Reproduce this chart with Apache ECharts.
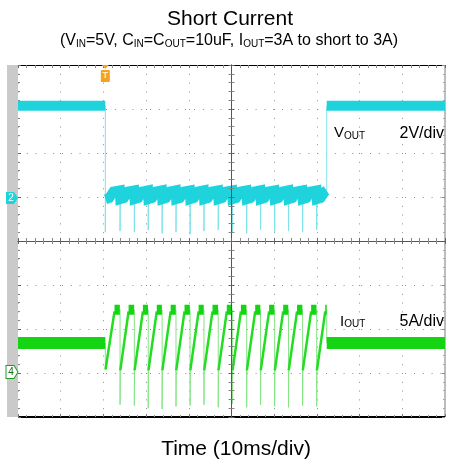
<!DOCTYPE html>
<html>
<head>
<meta charset="utf-8">
<script src="https://cdn.jsdelivr.net/npm/echarts@6/dist/echarts.min.js"></script>
<style>
  html, body { margin: 0; padding: 0; background: #fff; }
  #chart { width: 453px; height: 464px; }
</style>
</head>
<body>
<div id="chart"></div>
<script>
// Scope capture: VOUT (CH2, 2 V/div) and IOUT (CH4, 5 A/div), 10 ms/div
const FONT = '"Liberation Sans", Arial, Helvetica, sans-serif';

// time axis (ms) and vertical scales
const timeRange = [0, 100];
const voutRange = [-10, 6];    // 2 V/div, CH2 ground 3 div below top
const ioutRange = [-5, 35];    // 5 A/div, CH4 ground 1 div above bottom
const trigTime = 20.45;

// VOUT: wide noise band (level before/after, sawtooth during hiccup)
const voutBand = [
  [0, 4.15], [20.45, 4.15], null,
  [20.5, -0.1], [21.35, -0.05], [22.35, 0.25], [23.85, 0.3],
  [23.95, -0.1], [24.8, -0.05], [25.8, 0.25], [27.2, 0.3],
  [27.3, -0.1], [28.15, -0.05], [29.15, 0.25], [30.45, 0.3],
  [30.55, -0.1], [31.4, -0.05], [32.4, 0.25], [33.7, 0.3],
  [33.8, -0.1], [34.65, -0.05], [35.65, 0.25], [36.95, 0.3],
  [37.05, -0.1], [37.9, -0.05], [38.9, 0.25], [40.25, 0.3],
  [40.35, -0.1], [41.2, -0.05], [42.2, 0.25], [43.5, 0.3],
  [43.6, -0.1], [44.45, -0.05], [45.45, 0.25], [46.85, 0.3],
  [46.95, -0.1], [47.8, -0.05], [48.8, 0.25], [50.15, 0.3],
  [50.25, -0.1], [51.1, -0.05], [52.1, 0.25], [53.5, 0.3],
  [53.6, -0.1], [54.45, -0.05], [55.45, 0.25], [56.75, 0.3],
  [56.85, -0.1], [57.7, -0.05], [58.7, 0.25], [60.05, 0.3],
  [60.15, -0.1], [61.0, -0.05], [62.0, 0.25], [63.3, 0.3],
  [63.4, -0.1], [64.25, -0.05], [65.25, 0.25], [66.6, 0.3],
  [66.7, -0.1], [67.55, -0.05], [68.55, 0.25], [69.9, 0.3],
  [70.0, -0.1], [70.85, -0.05], [71.85, 0.25], [72.25, 0.3], null,
  [72.3, 4.15], [100, 4.15]
];

// VOUT: fast edges and negative spikes at each restart
const voutEdges = [
  [20.45, 4.15], [20.45, -1.6], [20.5, -0.1], null,
  [23.9, 0.3], [23.9, -1.55], [23.95, -0.1], null,
  [27.25, 0.3], [27.25, -1.6], [27.3, -0.1], null,
  [30.5, 0.3], [30.5, -1.5], [30.55, -0.1], null,
  [33.75, 0.3], [33.75, -1.65], [33.8, -0.1], null,
  [37.0, 0.3], [37.0, -1.6], [37.05, -0.1], null,
  [40.3, 0.3], [40.3, -1.7], [40.35, -0.1], null,
  [43.55, 0.3], [43.55, -1.55], [43.6, -0.1], null,
  [46.9, 0.3], [46.9, -1.5], [46.95, -0.1], null,
  [50.2, 0.3], [50.2, -1.6], [50.25, -0.1], null,
  [53.55, 0.3], [53.55, -1.65], [53.6, -0.1], null,
  [56.8, 0.3], [56.8, -1.5], [56.85, -0.1], null,
  [60.1, 0.3], [60.1, -1.6], [60.15, -0.1], null,
  [63.35, 0.3], [63.35, -1.55], [63.4, -0.1], null,
  [66.65, 0.3], [66.65, -1.6], [66.7, -0.1], null,
  [69.95, 0.3], [69.95, -1.5], [70.0, -0.1], null,
  [72.3, 0.3], [72.3, 4.15]
];

// IOUT: steady 3 A level band before and after the short
const ioutBand = [
  [0, 3.4], [20.45, 3.4], null,
  [72.3, 3.4], [100, 3.4]
];

// IOUT: current ramps of the hiccup cycles
const ioutRamps = [
  [20.5, 0.4], [22.6, 7.0], null,
  [23.95, 0.3], [25.9, 7.0], null,
  [27.3, 0.3], [29.25, 7.0], null,
  [30.55, 0.3], [32.5, 7.0], null,
  [33.8, 0.3], [35.75, 7.0], null,
  [37.05, 0.3], [39.0, 7.0], null,
  [40.35, 0.3], [42.3, 7.0], null,
  [43.6, 0.3], [45.55, 7.0], null,
  [46.95, 0.3], [48.9, 7.0], null,
  [50.25, 0.3], [52.2, 7.0], null,
  [53.6, 0.3], [55.55, 7.0], null,
  [56.85, 0.3], [58.8, 7.0], null,
  [60.15, 0.3], [62.1, 7.0], null,
  [63.4, 0.3], [65.35, 7.0], null,
  [66.7, 0.3], [68.65, 7.0], null,
  [70.0, 0.3], [71.95, 7.0]
];

// IOUT: current-limit plateaus
const ioutTops = [
  [22.6, 7.2], [23.85, 7.2], null,
  [25.9, 7.2], [27.2, 7.2], null,
  [29.25, 7.2], [30.45, 7.2], null,
  [32.5, 7.2], [33.7, 7.2], null,
  [35.75, 7.2], [36.95, 7.2], null,
  [39.0, 7.2], [40.25, 7.2], null,
  [42.3, 7.2], [43.5, 7.2], null,
  [45.55, 7.2], [46.85, 7.2], null,
  [48.9, 7.2], [50.15, 7.2], null,
  [52.2, 7.2], [53.5, 7.2], null,
  [55.55, 7.2], [56.75, 7.2], null,
  [58.8, 7.2], [60.05, 7.2], null,
  [62.1, 7.2], [63.3, 7.2], null,
  [65.35, 7.2], [66.6, 7.2], null,
  [68.65, 7.2], [69.9, 7.2], null,
  [71.95, 7.2], [72.3, 7.2]
];

// IOUT: turn-off edges with their negative spikes
const ioutEdges = [
  [20.45, 3.4], [20.45, 0.4], null,
  [23.9, 7.2], [23.9, -3.6], [23.95, 0.3], null,
  [27.25, 7.2], [27.25, -3.7], [27.3, 0.3], null,
  [30.5, 7.2], [30.5, -4.0], [30.55, 0.3], null,
  [33.75, 7.2], [33.75, -4.1], [33.8, 0.3], null,
  [37.0, 7.2], [37.0, -3.8], [37.05, 0.3], null,
  [40.3, 7.2], [40.3, -3.7], [40.35, 0.3], null,
  [43.55, 7.2], [43.55, -3.6], [43.6, 0.3], null,
  [46.9, 7.2], [46.9, -3.9], [46.95, 0.3], null,
  [50.2, 7.2], [50.2, -3.5], [50.25, 0.3], null,
  [53.55, 7.2], [53.55, -3.9], [53.6, 0.3], null,
  [56.8, 7.2], [56.8, -3.6], [56.85, 0.3], null,
  [60.1, 7.2], [60.1, -3.8], [60.15, 0.3], null,
  [63.35, 7.2], [63.35, -3.9], [63.4, 0.3], null,
  [66.65, 7.2], [66.65, -3.7], [66.7, 0.3], null,
  [69.95, 7.2], [69.95, -3.8], [70.0, 0.3], null,
  [72.3, 7.2], [72.3, 3.4]
];

const CYAN = '#1fd3dc';
const CYAN_LIGHT = '#7fe2e8';
const GREEN = '#14d414';
const GREEN_RAMP = '#22dd22';
const GREEN_LIGHT = '#86e486';

const chart = echarts.init(document.getElementById('chart'), null, { renderer: 'canvas' });

const hiddenLabel = { show: false };
const dotted = (dash) => ({ show: true, lineStyle: { color: '#8c8c8c', width: 1, type: dash } });

const option = {
  animation: false,
  backgroundColor: '#fff',
  grid: { left: 18, right: 8, top: 65, bottom: 47, containLabel: false },
  xAxis: [
    { // main time base, bottom frame
      type: 'value', min: timeRange[0], max: timeRange[1], interval: 10, position: 'bottom',
      axisLine: { onZero: false, lineStyle: { color: '#000', width: 2, cap: 'butt' } },
      axisTick: { show: true, inside: true, length: 3, lineStyle: { color: '#777' } },
      minorTick: { show: true, splitNumber: 5, length: 2, lineStyle: { color: '#999' } },
      axisLabel: hiddenLabel,
      splitLine: dotted([1, 7.8])
    },
    { // top frame
      type: 'value', min: timeRange[0], max: timeRange[1], interval: 10, position: 'top',
      axisLine: { onZero: false, lineStyle: { color: '#000', width: 1, cap: 'butt' } },
      axisTick: { show: true, inside: true, length: 3, lineStyle: { color: '#666' } },
      minorTick: { show: true, splitNumber: 5, length: 3, lineStyle: { color: '#888' } },
      axisLabel: hiddenLabel, splitLine: { show: false }
    },
    { // horizontal centre line, ticks upward
      type: 'value', min: -50, max: 50, interval: 10, position: 'bottom', z: 6,
      axisLine: { onZero: true, onZeroAxisIndex: 2, lineStyle: { color: '#555', width: 1 } },
      axisTick: { show: true, inside: true, length: 3, lineStyle: { color: '#666' } },
      minorTick: { show: true, splitNumber: 5, length: 3, lineStyle: { color: '#888' } },
      axisLabel: hiddenLabel, splitLine: { show: false }
    },
    { // horizontal centre line, ticks downward
      type: 'value', min: -50, max: 50, interval: 10, position: 'bottom', z: 6,
      axisLine: { onZero: true, onZeroAxisIndex: 2, lineStyle: { color: '#555', width: 1 } },
      axisTick: { show: true, inside: false, length: 3, lineStyle: { color: '#666' } },
      minorTick: { show: true, splitNumber: 5, length: 3, lineStyle: { color: '#888' } },
      axisLabel: hiddenLabel, splitLine: { show: false }
    }
  ],
  yAxis: [
    { type: 'value', min: voutRange[0], max: voutRange[1], show: false, axisLine: { onZero: false } },
    { type: 'value', min: ioutRange[0], max: ioutRange[1], show: false, axisLine: { onZero: false } },
    { // graticule rows + grey left strip
      type: 'value', min: -4, max: 4, interval: 1, position: 'left', offset: 6,
      axisLine: { onZero: false, lineStyle: { color: '#cacaca', width: 11, cap: 'butt' } },
      axisTick: { show: false }, axisLabel: hiddenLabel,
      splitLine: dotted([1, 7.8])
    },
    { // left frame ticks
      type: 'value', min: -4, max: 4, interval: 1, position: 'left',
      axisLine: { show: false, onZero: false },
      axisTick: { show: true, inside: true, length: 3, lineStyle: { color: '#666' } },
      minorTick: { show: true, splitNumber: 5, length: 2, lineStyle: { color: '#888' } },
      axisLabel: hiddenLabel, splitLine: { show: false }
    },
    { // vertical centre line, ticks right
      type: 'value', min: -4, max: 4, interval: 1, position: 'left', z: 6,
      axisLine: { onZero: true, onZeroAxisIndex: 2, lineStyle: { color: '#555', width: 1 } },
      axisTick: { show: true, inside: true, length: 3, lineStyle: { color: '#666' } },
      minorTick: { show: true, splitNumber: 5, length: 3, lineStyle: { color: '#888' } },
      axisLabel: hiddenLabel, splitLine: { show: false }
    },
    { // vertical centre line, ticks left
      type: 'value', min: -4, max: 4, interval: 1, position: 'left', z: 6,
      axisLine: { onZero: true, onZeroAxisIndex: 2, lineStyle: { color: '#555', width: 1 } },
      axisTick: { show: true, inside: false, length: 3, lineStyle: { color: '#666' } },
      minorTick: { show: true, splitNumber: 5, length: 3, lineStyle: { color: '#888' } },
      axisLabel: hiddenLabel, splitLine: { show: false }
    },
    { // right frame
      type: 'value', min: -4, max: 4, interval: 1, position: 'right',
      axisLine: { onZero: false, lineStyle: { color: '#bdbdbd', width: 2, cap: 'butt' } },
      axisTick: { show: true, inside: true, length: 3, lineStyle: { color: '#888' } },
      minorTick: { show: true, splitNumber: 5, length: 2, lineStyle: { color: '#aaa' } },
      axisLabel: hiddenLabel, splitLine: { show: false }
    }
  ],
  series: [
    {
      name: 'VOUT', type: 'line', xAxisIndex: 0, yAxisIndex: 0, data: voutBand,
      showSymbol: false, connectNulls: false, z: 3,
      lineStyle: { color: CYAN, width: 10, cap: 'butt', join: 'miter' },
      markPoint: {
        silent: true,
        data: [
          { // CH2 ground marker
            coord: [timeRange[0], 0], symbol: 'path://M0,0 L8,0 L12,6 L8,12 L0,12 Z',
            symbolSize: [12, 12], symbolOffset: [-6, 1],
            itemStyle: { color: CYAN },
            label: { show: true, formatter: '2', color: '#fff', fontSize: 10, fontFamily: FONT, offset: [-1, 0] }
          },
          { // trigger position marker
            coord: [trigTime, voutRange[1]],
            symbol: 'path://M1,0 L9,0 L5,4 Z M1,5 L9,5 Q10,5 10,6 L10,16 Q10,17 9,17 L1,17 Q0,17 0,16 L0,6 Q0,5 1,5 Z',
            symbolSize: [9, 17], symbolOffset: [0, 8.5], symbolKeepAspect: false,
            itemStyle: { color: '#f5a21e' },
            label: { show: true, formatter: 'T', color: '#fff3d0', fontSize: 9, fontWeight: 'bold', fontFamily: FONT, offset: [0, 2.5] }
          }
        ]
      }
    },
    {
      name: 'VOUT edges', type: 'line', xAxisIndex: 0, yAxisIndex: 0, data: voutEdges,
      showSymbol: false, connectNulls: false, z: 2,
      lineStyle: { color: CYAN_LIGHT, width: 1 }
    },
    {
      name: 'IOUT', type: 'line', xAxisIndex: 0, yAxisIndex: 1, data: ioutBand,
      showSymbol: false, connectNulls: false, z: 3,
      lineStyle: { color: GREEN, width: 12, cap: 'butt' },
      markPoint: {
        silent: true,
        data: [
          { // CH4 ground marker
            coord: [timeRange[0], 0], symbol: 'path://M0,0 L8,0 L12,6 L8,12 L0,12 Z',
            symbolSize: [12, 13], symbolOffset: [-6, -1],
            itemStyle: { color: '#fff', borderColor: '#1a9a1a', borderWidth: 1 },
            label: { show: true, formatter: '4', color: '#0d6e0d', fontSize: 10, fontFamily: FONT, offset: [-1, 0] }
          }
        ]
      }
    },
    {
      name: 'IOUT ramps', type: 'line', xAxisIndex: 0, yAxisIndex: 1, data: ioutRamps,
      showSymbol: false, connectNulls: false, z: 3,
      lineStyle: { color: GREEN_RAMP, width: 2.5 }
    },
    {
      name: 'IOUT limit', type: 'line', xAxisIndex: 0, yAxisIndex: 1, data: ioutTops,
      showSymbol: false, connectNulls: false, z: 3,
      lineStyle: { color: GREEN, width: 10, cap: 'butt' }
    },
    {
      name: 'IOUT edges', type: 'line', xAxisIndex: 0, yAxisIndex: 1, data: ioutEdges,
      showSymbol: false, connectNulls: false, z: 2,
      lineStyle: { color: GREEN_LIGHT, width: 1 }
    }
  ],
  graphic: [
    { type: 'text', x: 230, y: 19.7, style: { text: 'Short Current', fontSize: 21, fontFamily: FONT, fill: '#000', align: 'center', verticalAlign: 'middle' } },
    { type: 'text', x: 229, y: 41, style: {
        text: '(V{s|IN}=5V, C{s|IN}=C{s|OUT}=10uF, I{s|OUT}=3A to short to 3A)',
        fontSize: 16, fontFamily: FONT, fill: '#000', align: 'center', verticalAlign: 'middle',
        rich: { s: { fontSize: 10, fontFamily: FONT, fill: '#000', padding: [7, 0, 0, 0] } }
    } },
    { type: 'text', x: 334, y: 133.3, z: 10, style: {
        text: 'V{s|OUT}', fontSize: 15, fontFamily: FONT, fill: '#000', align: 'left', verticalAlign: 'middle',
        rich: { s: { fontSize: 10, fontFamily: FONT, fill: '#000', padding: [6, 0, 0, 0] } }
    } },
    { type: 'text', x: 444, y: 133.3, z: 10, style: { text: '2V/div', fontSize: 16, fontFamily: FONT, fill: '#000', align: 'right', verticalAlign: 'middle' } },
    { type: 'text', x: 340, y: 321.5, z: 10, style: {
        text: 'I{s|OUT}', fontSize: 15, fontFamily: FONT, fill: '#000', align: 'left', verticalAlign: 'middle',
        rich: { s: { fontSize: 10, fontFamily: FONT, fill: '#000', padding: [6, 0, 0, 0] } }
    } },
    { type: 'text', x: 444, y: 321.5, z: 10, style: { text: '5A/div', fontSize: 16, fontFamily: FONT, fill: '#000', align: 'right', verticalAlign: 'middle' } },
    { type: 'text', x: 236, y: 449.4, style: { text: 'Time (10ms/div)', fontSize: 21, fontFamily: FONT, fill: '#000', align: 'center', verticalAlign: 'middle' } }
  ]
};

chart.setOption(option);
</script>
</body>
</html>
